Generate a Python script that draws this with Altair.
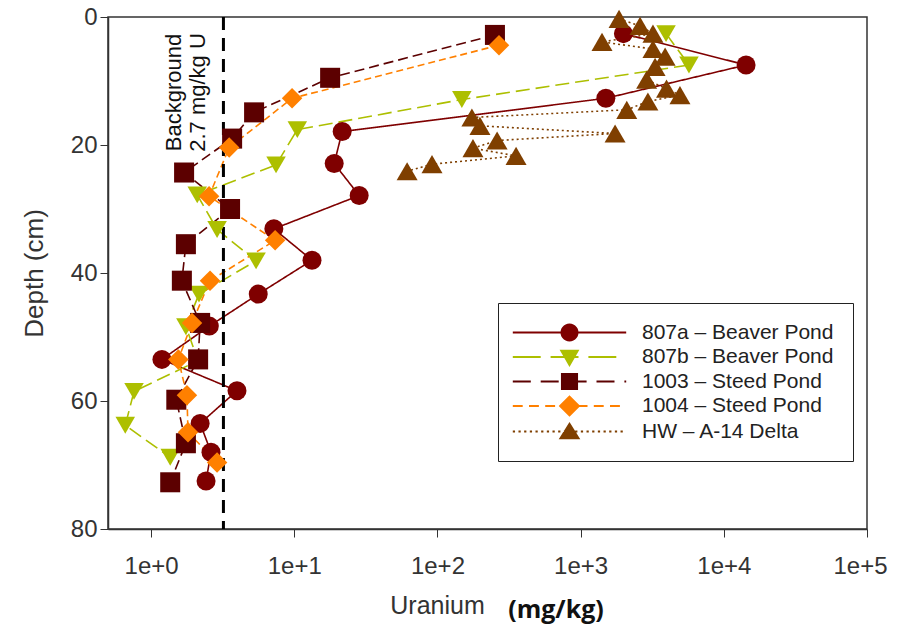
import math
import altair as alt
import pandas as pd

# ---------------- data ----------------
names = ["807a – Beaver Pond", "807b – Beaver Pond", "1003 – Steed Pond",
         "1004 – Steed Pond", "HW – A-14 Delta"]
colors = ["#7F0000", "#ADBF00", "#5C0000", "#FF8000", "#7F3F00"]
shapes = ["circle", "triangle-down", "square", "diamond", "triangle-up"]
sizes = [361, 441, 289, 484, 400]
dash_patterns = [[1, 0], [14, 6], [10, 5], [7, 4], [2, 3]]

depth_807a = [2.6, 7.5, 12.7, 17.9, 22.9, 27.9, 33.1, 38.0, 43.3, 48.3, 53.5, 58.4, 63.5, 68.0, 72.5]
u_807a = [1990, 14300, 1500, 21.6, 19.0, 28.4, 7.2, 13.3, 5.6, 2.55, 1.19, 3.98, 2.2, 2.62, 2.42]

depth_807b = [2.6, 7.5, 12.9, 17.6, 23.1, 27.8, 33.2, 38.1, 43.3, 48.4, 53.7, 58.5, 63.8, 68.8]
u_807b = [3950, 5710, 148, 10.5, 7.46, 2.1, 2.89, 5.41, 2.16, 1.75, 2.13, 0.76, 0.66, 1.36]

depth_1003 = [2.8, 9.5, 14.9, 19.0, 24.3, 30.0, 35.5, 41.2, 47.8, 53.5, 59.8, 66.6, 72.7]
u_1003 = [252, 17.8, 5.24, 3.68, 1.70, 3.56, 1.75, 1.64, 2.2, 2.13, 1.50, 1.75, 1.36]

depth_1004 = [4.4, 12.7, 20.4, 28.0, 34.9, 41.2, 47.8, 53.5, 59.1, 64.9, 69.6]
u_1004 = [269, 9.65, 3.51, 2.54, 7.35, 2.58, 1.93, 1.55, 1.78, 1.81, 2.89]

depth_hw = [0.3, 1.4, 2.6, 3.9, 5.0, 6.2, 7.8, 9.8, 11.2, 12.2, 13.2, 14.5, 15.7, 17.0,
            18.2, 19.3, 20.5, 21.7, 23.0, 24.1]
u_hw = [1855, 2600, 3200, 1410, 3200, 3890, 3310, 2890, 3980, 4940, 2950, 2100, 174, 198,
        1740, 261, 177, 354, 91.6, 61.4]

background_u = [3.2]
annotation = "Background\n2.7 mg/kg U"
annotation_u = [1.45]
annotation_depth = [11.8]
x_ticks = [1, 10, 100, 1000, 10000, 100000]

rows = []
for name, ds, us in zip(names,
                        [depth_807a, depth_807b, depth_1003, depth_1004, depth_hw],
                        [u_807a, u_807b, u_1003, u_1004, u_hw]):
    for d, u in zip(ds, us):
        rows.append({"series": name, "depth": d, "u": u})
df = pd.DataFrame(rows)

# ---------------- legend symbols (line + marker) ----------------
def seg(x0, x1, h=0.11):
    return f"M{x0:.3f},{-h}H{x1:.3f}V{h}H{x0:.3f}Z"

def line_path(dash, gap, L=6.3):
    if gap == 0:
        return seg(-L, L)
    parts, x = [], -L
    while x < L:
        parts.append(seg(x, min(x + dash, L)))
        x += dash + gap
    return "".join(parts)

circle_pts = [(math.cos(2 * math.pi * k / 28), math.sin(2 * math.pi * k / 28)) for k in range(28)]
circle_path = "M" + "L".join(f"{a:.3f},{b:.3f}" for a, b in circle_pts) + "Z"
marker_paths = [
    circle_path,
    "M-1.1,-0.8L1.1,-0.8L0,1.1Z",
    "M-0.95,-0.95H0.95V0.95H-0.95Z",
    "M0,-1.2L1.2,0L0,1.2L-1.2,0Z",
    "M0,-1.05L1.2,0.85L-1.2,0.85Z",
]
legend_lines = [line_path(6.3, 0), line_path(3.1, 1.1), line_path(2.0, 1.1),
                line_path(1.1, 0.7), line_path(0.25, 0.38)]
legend_paths = [l + m for l, m in zip(legend_lines, marker_paths)]

# ---------------- encodings ----------------
FONT = "Liberation Sans"
x_enc = alt.X(
    "u:Q",
    scale=alt.Scale(type="log", domain=[0.5, 100000], nice=False),
    axis=alt.Axis(values=x_ticks, labelExpr="'1e+' + round(log(datum.value)/LN10)",
                  grid=False, tickSize=8, labelPadding=17, labelFontSize=24,
                  labelFont=FONT, labelColor="#333", title="Uranium",
                  titleFont=FONT, titleFontSize=25, titleFontWeight="normal",
                  titleColor="#333", titleX=329, titleY=84, titleBaseline="alphabetic",
                  titleAlign="center", domainColor="#333", tickColor="#333",
                  domainWidth=1.5, labelFlush=True, labelFlushOffset=20),
)
y_enc = alt.Y(
    "depth:Q",
    scale=alt.Scale(domain=[0, 80], reverse=True, nice=False),
    axis=alt.Axis(values=[0, 20, 40, 60, 80], grid=False, tickSize=8, labelPadding=3,
                  labelFontSize=24, labelFont=FONT, labelColor="#333",
                  title="Depth (cm)", titleFont=FONT, titleFontSize=26,
                  titleFontWeight="normal", titleColor="#333", titlePadding=23,
                  domainColor="#333", tickColor="#333", domainWidth=1.5),
)

color_nolegend = alt.Color("series:N", scale=alt.Scale(domain=names, range=colors), legend=None)

lines = alt.Chart(df).mark_line(strokeWidth=1.6).encode(
    x=x_enc, y=y_enc, color=color_nolegend,
    strokeDash=alt.StrokeDash("series:N", scale=alt.Scale(domain=names, range=dash_patterns),
                              legend=None),
    order=alt.Order("depth:Q"),
)

points = alt.Chart(df).mark_point(filled=True, opacity=1, strokeWidth=0).encode(
    x=x_enc, y=y_enc, color=color_nolegend,
    shape=alt.Shape("series:N", scale=alt.Scale(domain=names, range=shapes), legend=None),
    size=alt.Size("series:O", scale=alt.Scale(domain=names, range=sizes), legend=None),
)

rule = alt.Chart(pd.DataFrame({"u": background_u})).mark_rule(
    color="black", strokeWidth=3, strokeDash=[13, 8]
).encode(x=x_enc)

note = alt.Chart(pd.DataFrame({"u": annotation_u, "depth": annotation_depth,
                               "t": [annotation]})).mark_text(
    angle=270, align="center", baseline="middle", font=FONT, fontSize=22,
    lineHeight=24, lineBreak="\n", color="#111"
).encode(x=x_enc, y=y_enc, text="t:N")

unit = alt.Chart(pd.DataFrame({"t": ["(mg/kg)"]})).mark_text(
    font="Open Sans", fontWeight="bold", fontSize=25, align="center",
    baseline="alphabetic", color="#111"
).encode(x=alt.value(448), y=alt.value(601), text="t:N")

leg = alt.Legend(orient="none", legendX=390, legendY=286, title=None,
                 labelFont=FONT, labelFontSize=21, labelColor="#222", labelLimit=0,
                 symbolSize=324, symbolStrokeWidth=0, symbolOffset=42,
                 labelOffset=62, rowPadding=2.5, padding=19,
                 strokeColor="#222", fillColor="white")
legend_layer = alt.Chart(pd.DataFrame({"series": names})).transform_filter(
    "datum.series == 'none'"
).mark_point(filled=True, opacity=1, size=324, strokeWidth=0).encode(
    shape=alt.Shape("series:N", scale=alt.Scale(domain=names, range=legend_paths), legend=leg),
    color=alt.Color("series:N", scale=alt.Scale(domain=names, range=colors), legend=leg),
)

chart = alt.layer(lines, rule, points, note, unit, legend_layer).resolve_scale(
    color="independent", shape="independent", size="independent", strokeDash="independent"
).properties(
    width=759, height=512,
    autosize=alt.AutoSizeParams(type="none"),
    padding={"left": 100, "top": 9, "right": 22, "bottom": 96},
).configure_view(stroke="#333", strokeWidth=1.5)

chart.save("out.html", embed_options={"renderer": "svg", "actions": False})
